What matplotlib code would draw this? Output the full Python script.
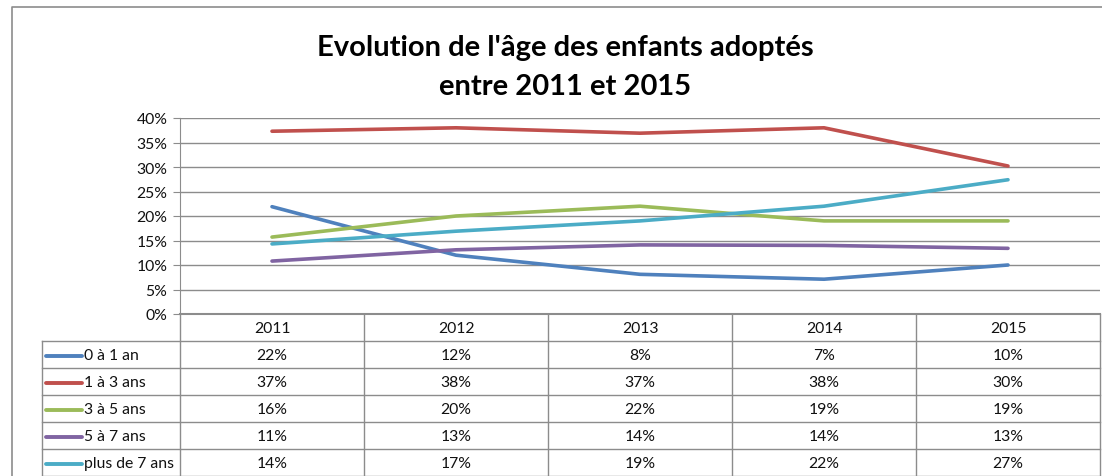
import numpy as np
import matplotlib
matplotlib.use("Agg")
import matplotlib.pyplot as plt

# Data (table shows rounded %)
years = ["2011", "2012", "2013", "2014", "2015"]
series_names = ["0 à 1 an", "1 à 3 ans", "3 à 5 ans", "5 à 7 ans", "plus de 7 ans"]
age_0_1 = [21.9, 12.0, 8.1, 7.1, 10.0]
age_1_3 = [37.3, 38.0, 36.9, 38.0, 30.2]
age_3_5 = [15.7, 20.0, 22.0, 19.0, 19.0]
age_5_7 = [10.8, 13.1, 14.1, 14.0, 13.4]
age_7_plus = [14.3, 16.9, 19.0, 22.0, 27.4]
colors = ["#4F81BD", "#C0504D", "#9BBB59", "#8064A2", "#4BACC6"]
yticks = [0, 5, 10, 15, 20, 25, 30, 35, 40]

all_series = [age_0_1, age_1_3, age_3_5, age_5_7, age_7_plus]

W, H = 1102, 477
fig = plt.figure(figsize=(W / 100, H / 100), dpi=100)
plt.rcParams['font.family'] = ['Lato', 'DejaVu Sans']
grid_c = "#8C8C8C"
txt_c = "#111111"
fs = 11.3

# pixel layout
x0, x1 = 180, 1100      # plot area
y_top, y_bot = 119, 315
leg_left = 42
row_h = 27

def fx(px):
    return px / W

def fy(py):
    return 1 - py / H

ax = fig.add_axes([fx(x0), fy(y_bot), fx(x1) - fx(x0), fy(y_top) - fy(y_bot)])
x = np.arange(len(years))
for vals, c in zip(all_series, colors):
    ax.plot(x, vals, color=c, lw=2.6, solid_capstyle="round", solid_joinstyle="round")
ax.set_xlim(-0.5, len(years) - 0.5)
ax.set_ylim(0, 40)
ax.set_yticks(yticks)
ax.set_yticklabels([f"{t}%" for t in yticks], fontsize=fs, color=txt_c)
ax.yaxis.grid(True, color=grid_c, lw=1)
ax.set_xticks([])
for s in ["top", "right", "bottom"]:
    ax.spines[s].set_visible(False)
ax.spines["left"].set_color(grid_c)
ax.tick_params(axis="y", length=5, color=grid_c, pad=4)
ax.set_axisbelow(True)

# overlay in pixel coordinates for frame, title and data table
ov = fig.add_axes([0, 0, 1, 1], zorder=-1)
ov.set_xlim(0, W)
ov.set_ylim(H, 0)
ov.axis("off")

# outer chart frame
ov.plot([12, 12, W + 5], [H + 5, 8, 8], color=grid_c, lw=1.2)

ov.text(565, 56, "Evolution de l'âge des enfants adoptés", ha="center",
        va="baseline", fontsize=21, fontweight="bold", color="black")
ov.text(565, 95, "entre 2011 et 2015", ha="center", va="baseline",
        fontsize=21, fontweight="bold", color="black")

# table
tab = fig.add_axes([0, 0, 1, 1])
tab.set_xlim(0, W)
tab.set_ylim(H, 0)
tab.axis("off")
col_w = (x1 - x0) / len(years)
n_rows = len(series_names)
y_header_bot = y_bot + row_h
y_table_bot = y_header_bot + n_rows * row_h
# horizontal lines
tab.plot([x0, x1], [y_bot, y_bot], color=grid_c, lw=1.5)
for r in range(n_rows + 1):
    yy = y_header_bot + r * row_h
    tab.plot([leg_left, x1], [yy, yy], color=grid_c, lw=1)
# vertical lines
for c in range(len(years) + 1):
    xx = x0 + c * col_w
    tab.plot([xx, xx], [y_bot, y_table_bot + 5], color=grid_c, lw=1)
tab.plot([leg_left, leg_left], [y_header_bot, y_table_bot + 5], color=grid_c, lw=1)

for c, yr in enumerate(years):
    tab.text(x0 + (c + 0.5) * col_w, y_bot + row_h / 2 + 1, yr, ha="center",
             va="center", fontsize=fs, color=txt_c)
for r, (name, vals, col) in enumerate(zip(series_names, all_series, colors)):
    yc = y_header_bot + (r + 0.5) * row_h + 1
    tab.plot([46, 82], [yc, yc], color=col, lw=2.8, solid_capstyle="round")
    tab.text(84, yc, name, ha="left", va="center", fontsize=fs, color=txt_c)
    for c, v in enumerate(vals):
        tab.text(x0 + (c + 0.5) * col_w, yc, f"{round(v)}%", ha="center",
                 va="center", fontsize=fs, color=txt_c)

fig.savefig("out.png", dpi=100, facecolor="white")
